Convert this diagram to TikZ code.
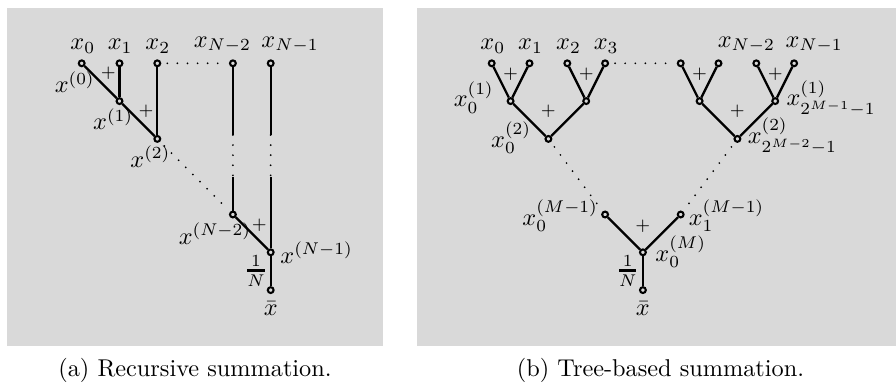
\documentclass[tikz,border=0pt]{standalone}
\usepackage{amsmath}
\definecolor{bg}{RGB}{217,217,217}
\tikzset{
  vtx/.style={circle, draw, line width=0.85pt, fill=bg, inner sep=0pt, minimum size=2.4pt},
  edge/.style={line width=0.95pt},
  dotline/.style={line width=0.8pt, line cap=round, dash pattern=on 0pt off 4.15pt, shorten <=2.5pt, shorten >=2.5pt},
  lbl/.style={inner sep=0pt, anchor=base west, font=\fontsize{10}{12}\selectfont},
  ctr/.style={inner sep=0pt, anchor=base, font=\fontsize{10}{12}\selectfont},
  plus/.style={inner sep=0pt, font=\fontsize{6.6}{8}\selectfont},
  fracnode/.style={inner sep=0pt, anchor=east, font=\fontsize{10}{12}\selectfont},
}
\newcommand{\thickfrac}{$\genfrac{}{}{1.1pt}{1}{1}{N}$}
\begin{document}
\begin{tikzpicture}[x=0.4117pt, y=-0.4117pt]
\useasboundingbox (0,0) rectangle (896,385);
% backgrounds
\fill[bg] (7.3,7.7) rectangle (382.7,346);
\fill[bg] (417.3,7.7) rectangle (896,346);

% ---------------- panel (a) ----------------
\node[vtx] (a0) at (81.7,63.3) {};
\node[vtx] (a1) at (119.5,63.3) {};
\node[vtx] (a2) at (157.3,63.3) {};
\node[vtx] (aN2) at (232.9,63.3) {};
\node[vtx] (aN1) at (270.7,63.3) {};
\node[vtx] (s1) at (119.5,101.1) {};
\node[vtx] (s2) at (157.3,138.9) {};
\node[vtx] (sN2) at (232.9,214.5) {};
\node[vtx] (sN1) at (270.7,252.3) {};
\node[vtx] (abar) at (270.7,290.1) {};
\coordinate (c4a) at (232.9,135);
\coordinate (c4b) at (232.9,176.7);
\coordinate (c5a) at (270.7,135);
\coordinate (c5b) at (270.7,176.7);

\draw[edge] (a0) -- (s1);
\draw[edge] (a1) -- (s1);
\draw[edge] (s1) -- (s2);
\draw[edge] (a2) -- (s2);
\draw[dotline] (a2) -- (aN2);
\draw[dotline] (s2) -- (sN2);
\draw[edge] (aN2) -- (c4a);
\draw[dotline, shorten <=0pt, shorten >=0pt] (c4a) -- (c4b);
\draw[edge] (c4b) -- (sN2);
\draw[edge] (aN1) -- (c5a);
\draw[dotline, shorten <=0pt, shorten >=0pt] (c5a) -- (c5b);
\draw[edge] (c5b) -- (sN1);
\draw[edge] (sN2) -- (sN1);
\draw[edge] (sN1) -- (abar);

\node[lbl] (la0) at (70,49.5) {$x_0$};
\node[lbl] (la1) at (107.3,49.5) {$x_1$};
\node[lbl] (la2) at (145,49.5) {$x_2$};
\node[lbl] (laN2) at (193.3,47.2) {$x_{N-2}$};
\node[lbl] (laN1) at (261,47.2) {$x_{N-1}$};
\node[lbl] (ls0) at (54.3,93) {$x^{(0)}$};
\node[lbl] (ls1) at (92.7,130) {$x^{(1)}$};
\node[lbl] (ls2) at (130,167.5) {$x^{(2)}$};
\node[lbl] (lsN2) at (178.3,244.5) {$x^{(N-2)}$};
\node[lbl] (lsN1) at (280,263) {$x^{(N-1)}$};
\node[plus] (pa1) at (108.3,73.3) {$+$};
\node[plus] (pa2) at (146,111.7) {$+$};
\node[plus] (pa3) at (259.3,225) {$+$};
\node[fracnode] (fa) at (268,271) {\thickfrac};
\node[ctr] (lbara) at (270.7,315.5) {$\bar{x}$};
\node[ctr] (capa) at (195,376.5) {(a) Recursive summation.};

% ---------------- panel (b) ----------------
\node[vtx] (b0) at (491.7,63.3) {};
\node[vtx] (b1) at (529.5,63.3) {};
\node[vtx] (b2) at (567.3,63.3) {};
\node[vtx] (b3) at (605.1,63.3) {};
\node[vtx] (b5) at (680.7,63.3) {};
\node[vtx] (b6) at (718.5,63.3) {};
\node[vtx] (b7) at (756.3,63.3) {};
\node[vtx] (b8) at (794.1,63.3) {};
\node[vtx] (p1a) at (510.6,101.1) {};
\node[vtx] (p1b) at (586.2,101.1) {};
\node[vtx] (p1c) at (699.6,101.1) {};
\node[vtx] (p1d) at (775.2,101.1) {};
\node[vtx] (p2a) at (548.4,138.9) {};
\node[vtx] (p2b) at (737.4,138.9) {};
\node[vtx] (m1a) at (605.1,214.5) {};
\node[vtx] (m1b) at (680.7,214.5) {};
\node[vtx] (mm) at (642.9,252.3) {};
\node[vtx] (bbar) at (642.9,290.1) {};

\draw[edge] (b0) -- (p1a);
\draw[edge] (b1) -- (p1a);
\draw[edge] (b2) -- (p1b);
\draw[edge] (b3) -- (p1b);
\draw[edge] (b5) -- (p1c);
\draw[edge] (b6) -- (p1c);
\draw[edge] (b7) -- (p1d);
\draw[edge] (b8) -- (p1d);
\draw[edge] (p1a) -- (p2a);
\draw[edge] (p1b) -- (p2a);
\draw[edge] (p1c) -- (p2b);
\draw[edge] (p1d) -- (p2b);
\draw[dotline] (b3) -- (b5);
\draw[dotline] (p2a) -- (m1a);
\draw[dotline] (p2b) -- (m1b);
\draw[edge] (m1a) -- (mm);
\draw[edge] (m1b) -- (mm);
\draw[edge] (mm) -- (bbar);

\node[lbl] (lb0) at (480,49.5) {$x_0$};
\node[lbl] (lb1) at (517.7,49.5) {$x_1$};
\node[lbl] (lb2) at (555.7,49.5) {$x_2$};
\node[lbl] (lb3) at (593.3,49.5) {$x_3$};
\node[lbl] (lbN2) at (717.3,47.3) {$x_{N-2}$};
\node[lbl] (lbN1) at (785,47.3) {$x_{N-1}$};
\node[plus] (pb1) at (510.6,74.3) {$+$};
\node[plus] (pb2) at (586.2,74.3) {$+$};
\node[plus] (pb3) at (699.6,74.3) {$+$};
\node[plus] (pb4) at (775.2,74.3) {$+$};
\node[plus] (pb5) at (548.4,111.7) {$+$};
\node[plus] (pb6) at (737.4,111.7) {$+$};
\node[plus] (pb7) at (642.9,226) {$+$};
\node[lbl] (lp1a) at (453.3,106.7) {$x_0^{(1)}$};
\node[lbl] (lp2a) at (490.7,147.3) {$x_0^{(2)}$};
\node[lbl] (lp1d) at (786,106) {$x_{2^{M-1}-1}^{(1)}$};
\node[lbl] (lp2b) at (747.3,143.5) {$x_{2^{M-2}-1}^{(2)}$};
\node[lbl] (lm1a) at (522,225) {$x_0^{(M-1)}$};
\node[lbl] (lm1b) at (688.3,225) {$x_1^{(M-1)}$};
\node[lbl] (lmm) at (655,261.5) {$x_0^{(M)}$};
\node[fracnode] (fb) at (639.6,271) {\thickfrac};
\node[ctr] (lbarb) at (642.9,315.5) {$\bar{x}$};
\node[ctr] (capb) at (660.5,376.5) {(b) Tree-based summation.};
\end{tikzpicture}
\end{document}
